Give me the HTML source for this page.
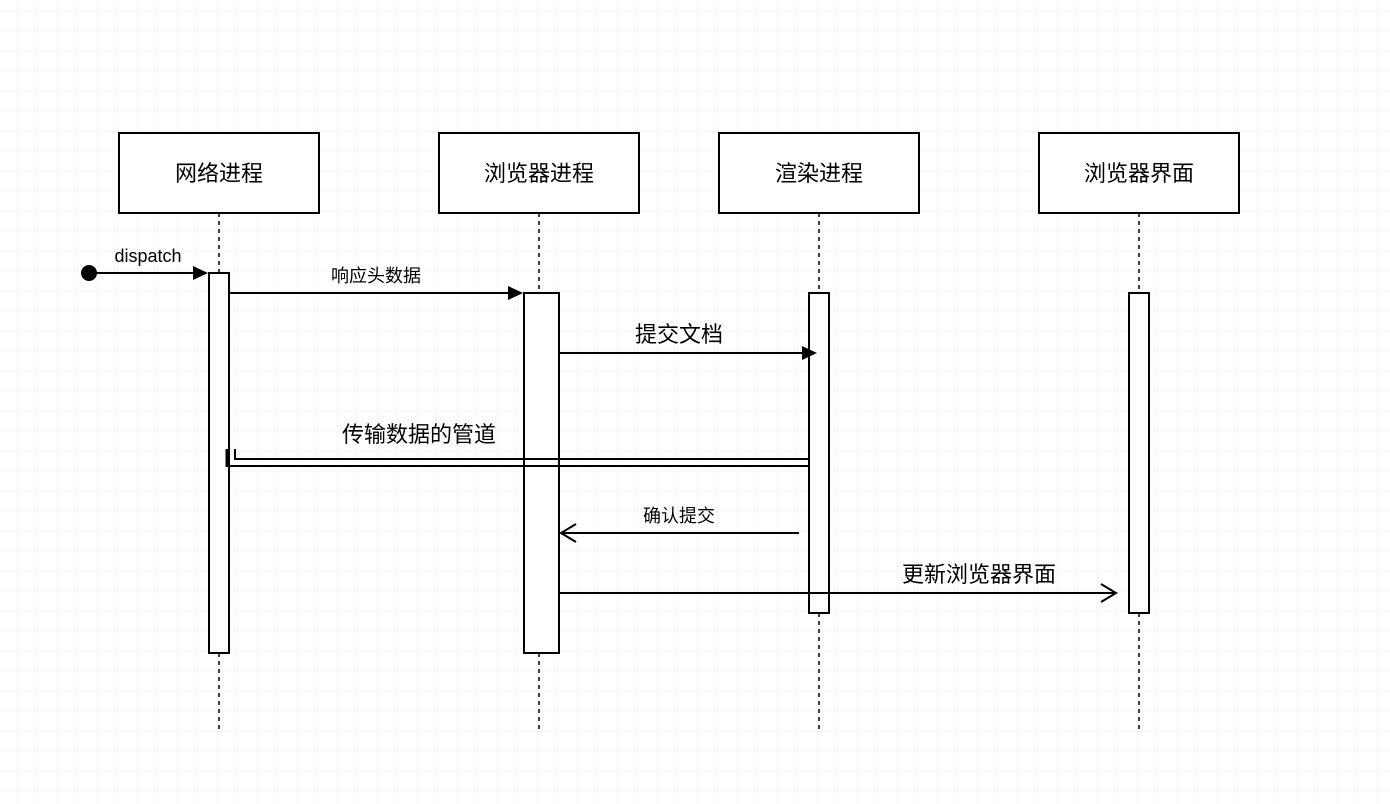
<!DOCTYPE html>
<html><head><meta charset="utf-8"><style>
html,body{margin:0;padding:0;background:#fff;}
svg{display:block;}
text{font-family:"Liberation Sans","Noto Sans CJK SC",sans-serif;fill:#000;}
</style></head><body>
<svg width="1390" height="804" viewBox="0 0 1390 804" xmlns="http://www.w3.org/2000/svg">
<defs>
<pattern id="minor" width="20" height="20" patternUnits="userSpaceOnUse" x="-2" y="-8">
<path d="M20 0V20M0 20H20" stroke="#efeff3" stroke-width="1" fill="none"/>
</pattern>
<pattern id="major" width="80" height="80" patternUnits="userSpaceOnUse" x="-2" y="-28">
<path d="M80.5 0V80M0 80.5H80" stroke="#d0d0d4" stroke-width="1" fill="none"/>
</pattern>
</defs>
<rect width="1390" height="804" fill="url(#minor)"/>
<rect width="1390" height="804" fill="url(#major)"/>
<g stroke="#000" stroke-width="1.5" stroke-dasharray="4,4">
<line x1="219" y1="213" x2="219" y2="733"/>
<line x1="539" y1="213" x2="539" y2="733"/>
<line x1="819" y1="213" x2="819" y2="733"/>
<line x1="1139" y1="213" x2="1139" y2="733"/>
</g>
<g fill="#fff" stroke="#000" stroke-width="2">
<rect x="119" y="133" width="200" height="80"/>
<rect x="439" y="133" width="200" height="80"/>
<rect x="719" y="133" width="200" height="80"/>
<rect x="1039" y="133" width="200" height="80"/>
<rect x="209" y="273" width="20" height="380"/>
<rect x="524" y="293" width="35" height="360"/>
<rect x="809" y="293" width="20" height="320"/>
<rect x="1129" y="293" width="20" height="320"/>
</g>
<g font-size="22" text-anchor="middle">
<text x="219" y="181">网络进程</text>
<text x="539" y="181">浏览器进程</text>
<text x="819" y="181">渲染进程</text>
<text x="1139" y="181">浏览器界面</text>
</g>
<g stroke="#000" stroke-width="2" fill="none">
<line x1="89" y1="273" x2="194" y2="273"/>
<line x1="229" y1="293" x2="509" y2="293"/>
<line x1="559" y1="353" x2="802" y2="353"/>
<line x1="799" y1="533" x2="562" y2="533"/>
<polyline points="576,524 561,533 576,542"/>
<line x1="559" y1="593" x2="1116" y2="593"/>
<polyline points="1101,584 1116,593 1101,602"/>
<polyline points="235,449 235,459 809,459"/>
<line x1="227" y1="466" x2="809" y2="466"/>
<line x1="227" y1="449" x2="227" y2="467" stroke-width="3"/>
</g>
<circle cx="89" cy="273" r="8" fill="#000"/>
<polygon points="193,266 208,273 193,280" fill="#000"/>
<polygon points="508,286 523,293 508,300" fill="#000"/>
<polygon points="802,346 817,353 802,360" fill="#000"/>
<text x="148" y="262" font-size="18" text-anchor="middle">dispatch</text>
<text x="376" y="282" font-size="18" text-anchor="middle">响应头数据</text>
<text x="679" y="342" font-size="22" text-anchor="middle">提交文档</text>
<text x="419" y="442" font-size="22" text-anchor="middle">传输数据的管道</text>
<text x="679" y="522" font-size="18" text-anchor="middle">确认提交</text>
<text x="979" y="582" font-size="22" text-anchor="middle">更新浏览器界面</text>
</svg>
</body></html>
